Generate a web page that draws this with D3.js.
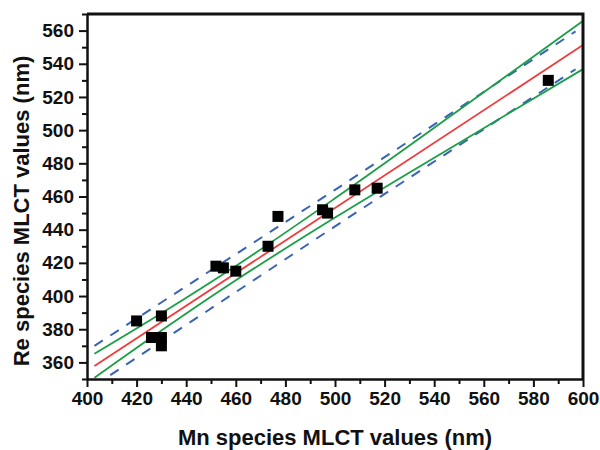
<!DOCTYPE html>
<html>
<head>
    <title>MLCT correlation</title>
    <script src="https://d3js.org/d3.v7.min.js"></script>
    <style>
      body{ margin:0; background:white; }
      text{ font-family:"Liberation Sans", Arial, sans-serif; font-weight:bold; fill:#111; }
      .tick text{ font-size:19px; }
      .title{ font-size:22px; text-anchor:middle; }
      .domain{ stroke:#111; stroke-width:2.5; }
      .tick line{ stroke:#111; stroke-width:2; }
      .fit{ fill:none; stroke:#ee3b3b; stroke-width:1.8; }
      .conf{ fill:none; stroke:#1a9e46; stroke-width:1.8; }
      .pred{ fill:none; stroke:#3b63b5; stroke-width:2; stroke-dasharray:10,9; }
    </style>
</head>
<body>
    <script>
      // measured points (Mn MLCT, Re MLCT)
      var mnValues=[420,430,426,430,430,452,455,460,473,477,495,497,508,517,586];
      var reValues=[385,388,375,375,370,418,417,415,430,448,452,450,464,465,530];

      // fit line and bands
      var fitX=[403,600];
      var fitY=[357.8,551.3];
      var bandX=[403,430,460,500,550,600];
      var confUpper=[365.2,389.6,418.1,458.9,512.1,565.8];
      var confLower=[350.7,379.2,409.5,447.3,492.3,536.8];
      var predX=[403,500,597];
      var predUpper=[370,464,559.5];
      var predLower=[346,442,536.7];

      var xTicks=[400,420,440,460,480,500,520,540,560,580,600];
      var yTicks=[360,380,400,420,440,460,480,500,520,540,560];

      var mLeft=87,mRight=583,mTop=14,mBottom=379;

      var svg=d3.select("body").append("svg").attr("width",600).attr("height",450);

      var x=d3.scaleLinear().domain([400,600]).range([mLeft,mRight]);
      var y=d3.scaleLinear().domain([350,570]).range([mBottom,mTop]);

      svg.append("clipPath").attr("id","plot").append("rect")
        .attr("x",mLeft).attr("y",mTop).attr("width",mRight-mLeft).attr("height",mBottom-mTop);

      var line=d3.line().x(function(d){return x(d[0])}).y(function(d){return y(d[1])});
      var smooth=d3.line().curve(d3.curveMonotoneX).x(function(d){return x(d[0])}).y(function(d){return y(d[1])});
      var lines=svg.append("g").attr("clip-path","url(#plot)");

      lines.append("path").attr("class","pred").attr("d",line(d3.zip(predX,predUpper)));
      lines.append("path").attr("class","pred").attr("d",line(d3.zip(predX,predLower)));
      lines.append("path").attr("class","conf").attr("d",smooth(d3.zip(bandX,confUpper)));
      lines.append("path").attr("class","conf").attr("d",smooth(d3.zip(bandX,confLower)));
      lines.append("path").attr("class","fit").attr("d",line(d3.zip(fitX,fitY)));

      var s=11;
      svg.append("g").selectAll("rect").data(d3.zip(mnValues,reValues)).enter().append("rect")
        .attr("x",function(d){return x(d[0])-s/2}).attr("y",function(d){return y(d[1])-s/2})
        .attr("width",s).attr("height",s).attr("fill","#000");

      // minor ticks
      svg.append("g").attr("transform","translate(0,"+mBottom+")")
        .call(d3.axisBottom(x).tickValues(d3.range(410,600,20)).tickSize(5).tickFormat(""))
        .select(".domain").remove();
      svg.append("g").attr("transform","translate("+mLeft+",0)")
        .call(d3.axisLeft(y).tickValues(d3.range(350,571,20)).tickSize(5).tickFormat(""))
        .select(".domain").remove();

      // major ticks
      svg.append("g").attr("transform","translate(0,"+mBottom+")")
        .call(d3.axisBottom(x).tickValues(xTicks).tickSize(8).tickSizeOuter(0).tickPadding(5));
      svg.append("g").attr("transform","translate("+mLeft+",0)")
        .call(d3.axisLeft(y).tickValues(yTicks).tickSize(8).tickSizeOuter(0).tickPadding(5));

      // box top and right
      svg.append("path").attr("d","M"+mLeft+","+mTop+"H"+mRight+"V"+mBottom)
        .attr("fill","none").attr("stroke","#111").attr("stroke-width",3);

      svg.append("text").attr("class","title").attr("x",(mLeft+mRight)/2).attr("y",445)
        .text("Mn species MLCT values (nm)");
      svg.append("text").attr("class","title").attr("transform","translate(29,211) rotate(-90)")
        .text("Re species MLCT values (nm)");
    </script>
</body>
</html>
